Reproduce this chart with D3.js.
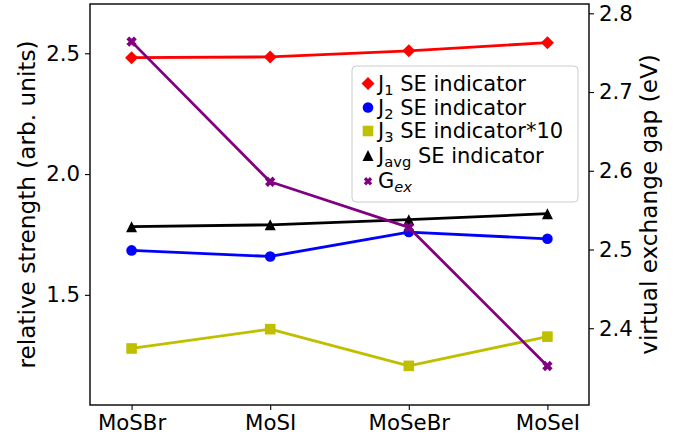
<html>
<head>
<script src="https://d3js.org/d3.v7.min.js"></script>
<style>
  body { margin: 0; background: #fff; }
  svg text { font-family: "DejaVu Sans", sans-serif; fill: #000; }
</style>
</head>
<body>
<svg id="chart" width="693" height="441"></svg>
<script>
// data
const compounds = ["MoSBr", "MoSI", "MoSeBr", "MoSeI"];
const j1 = [2.482, 2.485, 2.510, 2.544];
const j2 = [1.684, 1.659, 1.760, 1.732];
const j3x10 = [1.278, 1.358, 1.206, 1.327];
const javg = [1.782, 1.790, 1.811, 1.836];
const gex = [2.764, 2.586, 2.528, 2.352];
const leftTicks = [1.5, 2.0, 2.5];
const rightTicks = [2.4, 2.5, 2.6, 2.7, 2.8];

const svg = d3.select("#chart");
const box = { left: 90, right: 589, top: 4, bottom: 405 };
const tickFs = 21.3;
const labelFs = 23.2;
const legFs = 21;

const x = d3.scaleLinear().domain([-0.3, 3.3]).range([box.left, box.right]);
const yL = d3.scaleLinear().domain([1.044, 2.704]).range([box.bottom, box.top]);
const yR = d3.scaleLinear().domain([2.3025, 2.8118]).range([box.bottom, box.top]);

// marker shapes (matplotlib-like)
function diamond(r) { return `M0,${-r}L${r},0L0,${r}L${-r},0Z`; }
function square(r) { return `M${-r},${-r}H${r}V${r}H${-r}Z`; }
function triangle(r) { return `M0,${-r}L${r},${r}L${-r},${r}Z`; }
function circle(r) { return `M${r},0A${r},${r} 0 1 1 ${-r},0A${r},${r} 0 1 1 ${r},0Z`; }
function filledX(r) {
  const t = r * 0.55;
  const pts = [[0,-t],[r-t,-r],[r,-r+t],[t,0],[r,r-t],[r-t,r],[0,t],[-r+t,r],[-r,r-t],[-t,0],[-r,-r+t],[-r+t,-r]];
  return "M" + pts.map(p => p.join(",")).join("L") + "Z";
}

const series = [
  { vals: j1, y: yL, color: "#ff0000", marker: diamond(6.5), name: ["J", "1", " SE indicator"] },
  { vals: j2, y: yL, color: "#0000ff", marker: circle(5.3), name: ["J", "2", " SE indicator"] },
  { vals: j3x10, y: yL, color: "#bfbf00", marker: square(5.3), name: ["J", "3", " SE indicator*10"] },
  { vals: javg, y: yL, color: "#000000", marker: triangle(5.5), name: ["J", "avg", " SE indicator"] },
  { vals: gex, y: yR, color: "#800080", marker: filledX(5.2), name: ["G", "ex", ""], italic: true }
];

const plot = svg.append("g");
series.forEach(s => {
  const line = d3.line().x((d, i) => x(i)).y(d => s.y(d));
  plot.append("path").datum(s.vals)
    .attr("d", line)
    .attr("fill", "none")
    .attr("stroke", s.color)
    .attr("stroke-width", 2.8)
    .attr("stroke-linejoin", "round");
  plot.selectAll(null).data(s.vals).join("path")
    .attr("d", s.marker)
    .attr("transform", (d, i) => `translate(${x(i)},${s.y(d)})`)
    .attr("fill", s.color);
});

// frame
svg.append("rect")
  .attr("x", box.left).attr("y", box.top)
  .attr("width", box.right - box.left).attr("height", box.bottom - box.top)
  .attr("fill", "none").attr("stroke", "#000").attr("stroke-width", 1.4);

// axes
const xAxis = svg.append("g").attr("transform", `translate(0,${box.bottom})`)
  .call(d3.axisBottom(x).tickValues([0, 1, 2, 3]).tickFormat(i => compounds[i]).tickSizeOuter(0).tickSize(5).tickPadding(5));
const lAxis = svg.append("g").attr("transform", `translate(${box.left},0)`)
  .call(d3.axisLeft(yL).tickValues(leftTicks).tickFormat(d3.format(".1f")).tickSizeOuter(0).tickSize(5).tickPadding(5));
const rAxis = svg.append("g").attr("transform", `translate(${box.right},0)`)
  .call(d3.axisRight(yR).tickValues(rightTicks).tickFormat(d3.format(".1f")).tickSizeOuter(0).tickSize(5).tickPadding(5));
[xAxis, lAxis, rAxis].forEach(a => {
  a.select(".domain").remove();
  a.selectAll("line").attr("stroke", "#000").attr("stroke-width", 1.1);
  a.selectAll("text").attr("font-size", tickFs).attr("font-family", "DejaVu Sans");
});

// axis labels
svg.append("text")
  .attr("transform", `translate(35,${(box.top + box.bottom) / 2}) rotate(-90)`)
  .attr("text-anchor", "middle").attr("font-size", labelFs)
  .text("relative strength (arb. units)");
svg.append("text")
  .attr("transform", `translate(657,${(box.top + box.bottom) / 2}) rotate(-90)`)
  .attr("text-anchor", "middle").attr("font-size", labelFs)
  .text("virtual exchange gap (eV)");

// legend
const leg = svg.append("g");
leg.append("rect")
  .attr("x", 352).attr("y", 66).attr("width", 226).attr("height", 136)
  .attr("rx", 4).attr("fill", "#fff").attr("fill-opacity", 0.8)
  .attr("stroke", "#cccccc").attr("stroke-width", 1);
const baselines = [90.5, 114.5, 138, 162.5, 188.3];
series.forEach((s, i) => {
  const by = baselines[i];
  leg.append("path").attr("d", i === 4 ? filledX(4.2) : s.marker)
    .attr("transform", `translate(368,${by - 7})`)
    .attr("fill", s.color);
  const t = leg.append("text").attr("x", 378).attr("y", by).attr("font-size", legFs);
  t.append("tspan").text(s.name[0]);
  t.append("tspan").attr("font-size", legFs * 0.7).attr("dy", 4)
    .attr("font-style", s.italic ? "italic" : "normal").text(s.name[1]);
  if (s.name[2]) t.append("tspan").attr("dy", -4).text(s.name[2]);
});
</script>
</body>
</html>
